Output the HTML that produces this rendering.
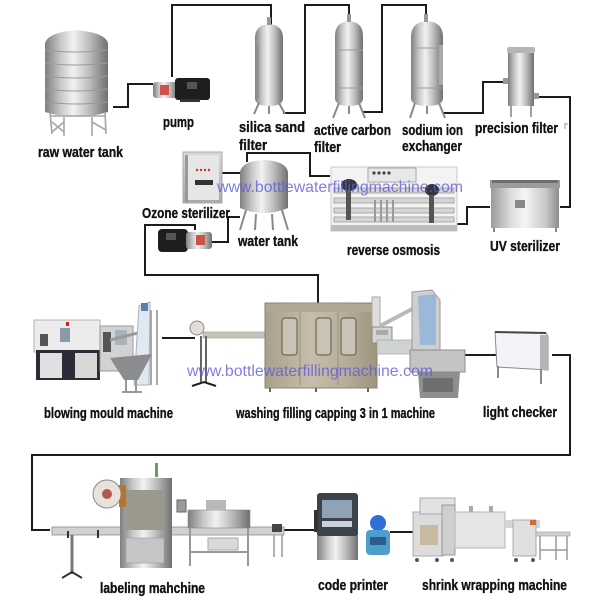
<!DOCTYPE html>
<html><head><meta charset="utf-8"><style>
html,body{margin:0;padding:0;background:#fff;}
svg{display:block;}
.lb{font-family:"Liberation Sans Narrow","Liberation Sans",Arial,sans-serif;font-weight:bold;font-size:14.5px;fill:#111;stroke:#111;stroke-width:0.35px;}
.wm{font-family:"Liberation Sans",Arial,sans-serif;font-size:16px;fill:#5c5ad8;fill-opacity:0.78;}
.ln{fill:none;stroke:#1c1c1c;stroke-width:2;}
</style></head><body>
<svg width="600" height="600" viewBox="0 0 600 600" xmlns="http://www.w3.org/2000/svg">
<defs>
<linearGradient id="st" x1="0" x2="1" y1="0" y2="0">
<stop offset="0" stop-color="#7f7f7f"/><stop offset="0.25" stop-color="#c8c8c8"/><stop offset="0.45" stop-color="#f2f2f2"/><stop offset="0.7" stop-color="#bdbdbd"/><stop offset="1" stop-color="#707070"/>
</linearGradient>
<linearGradient id="st2" x1="0" x2="1" y1="0" y2="0">
<stop offset="0" stop-color="#9a9a9a"/><stop offset="0.3" stop-color="#dedede"/><stop offset="0.5" stop-color="#f5f5f5"/><stop offset="0.8" stop-color="#c9c9c9"/><stop offset="1" stop-color="#8c8c8c"/>
</linearGradient>
<linearGradient id="tan" x1="0" x2="1" y1="0" y2="0">
<stop offset="0" stop-color="#a89f8c"/><stop offset="0.4" stop-color="#c6bdab"/><stop offset="0.7" stop-color="#b7ae9b"/><stop offset="1" stop-color="#9e957f"/>
</linearGradient>
<linearGradient id="gv" x1="0" x2="0" y1="0" y2="1">
<stop offset="0" stop-color="#d9d9d9"/><stop offset="1" stop-color="#a9a9a9"/>
</linearGradient>
</defs>

<!-- connectors -->
<path class="ln" d="M113,107 H128 V84 H153"/>
<path class="ln" d="M172,77 V5 H271 V25"/>
<path class="ln" d="M283,113 H305 V5 H349 V22"/>
<path class="ln" d="M363,112 H382 V5 H426 V22"/>
<path class="ln" d="M443,113 H483 V82 H503"/>
<path class="ln" d="M535,97 H570 V207 H560"/>
<path class="ln" d="M490,207 H467 V224 H457"/>
<path class="ln" d="M330,176 H310 V153 H247 V162"/>
<path class="ln" d="M222,173 H240"/>
<path class="ln" d="M240,217 H228 V242 H212"/>
<path class="ln" d="M195,230 V225 H145 V275 H318 V303"/>
<path class="ln" d="M162,338 H195"/>
<path class="ln" d="M465,355 H497"/>
<path class="ln" d="M552,355 H570 V455 H32 V530 H50"/>
<path class="ln" d="M283,530 H316"/>
<path class="ln" d="M390,532 H413"/>

<!-- raw water tank -->
<g>
<path d="M45,44 Q46,33 76,30 Q107,33 108,44 V112 Q76,122 45,112 Z" fill="url(#st)"/>
<g stroke="#9a9a9a" stroke-width="1" fill="none">
<path d="M45,50 Q76,54 108,50"/><path d="M45,63 Q76,67 108,63"/><path d="M45,76 Q76,80 108,76"/><path d="M45,89 Q76,93 108,89"/><path d="M45,102 Q76,106 108,102"/>
</g>
<g stroke="#a5a5a5" stroke-width="1.6" fill="none">
<path d="M50,112 L52,134"/><path d="M64,117 L64,136"/><path d="M92,117 L92,136"/><path d="M105,112 L106,134"/>
<path d="M50,116 H106"/><path d="M52,122 L64,132 M64,122 L52,132 M92,122 L106,130"/>
</g>
</g>

<!-- pump 1 -->
<g>
<rect x="153" y="82" width="24" height="16" rx="3" fill="url(#st)"/>
<rect x="160" y="85" width="9" height="10" fill="#c9524a"/>
<rect x="175" y="78" width="35" height="22" rx="3" fill="#1e1e1e"/>
<rect x="187" y="82" width="10" height="7" fill="#555"/>
<rect x="180" y="99" width="20" height="3" fill="#333"/>
</g>

<!-- silica sand filter -->
<g>
<path d="M255,38 Q255,25 269,24 Q283,25 283,38 V98 Q283,106 269,106 Q255,106 255,98 Z" fill="url(#st)"/>
<rect x="267" y="17" width="4" height="8" fill="#999"/>
<g stroke="#8a8a8a" stroke-width="2"><path d="M259,103 L254,114 M279,103 L285,114 M269,106 V114"/></g>
<path d="M258,45 V98 M280,45 V98" stroke="#888" stroke-width="1"/>
</g>
<!-- active carbon filter -->
<g>
<path d="M335,36 Q335,22 349,21 Q363,22 363,36 V98 Q363,106 349,106 Q335,106 335,98 Z" fill="url(#st)"/>
<rect x="347" y="14" width="4" height="8" fill="#999"/>
<g stroke="#8a8a8a" stroke-width="2"><path d="M339,103 L333,118 M359,103 L365,118 M349,106 V114"/></g>
<path d="M335,50 H363 M335,88 H363" stroke="#999" stroke-width="1"/>
</g>
<!-- sodium ion exchanger -->
<g>
<path d="M411,37 Q411,22 427,21 Q443,22 443,37 V98 Q443,106 427,106 Q411,106 411,98 Z" fill="url(#st)"/>
<rect x="424" y="14" width="4" height="8" fill="#999"/>
<g stroke="#8a8a8a" stroke-width="2"><path d="M415,103 L410,118 M439,103 L445,118 M427,106 V114"/></g>
<path d="M411,48 H443 M411,88 H443" stroke="#999" stroke-width="1"/>
<rect x="439" y="45" width="4" height="40" fill="#aaa"/>
</g>
<!-- precision filter -->
<g>
<rect x="507" y="47" width="28" height="6" rx="2" fill="#b5b5b5"/>
<rect x="508" y="53" width="26" height="53" fill="url(#st)"/>
<rect x="503" y="78" width="5" height="6" fill="#999"/>
<rect x="534" y="93" width="5" height="6" fill="#999"/>
<g stroke="#8a8a8a" stroke-width="1.6"><path d="M511,106 V117 M531,106 V117"/></g>
</g>
<path d="M565,123 V129 M565,124 H568" stroke="#999" stroke-width="1"/>

<!-- UV sterilizer -->
<g>
<rect x="490" y="180" width="70" height="8" fill="#9c9c9c"/>
<rect x="491" y="188" width="68" height="40" fill="url(#st2)"/>
<rect x="492" y="180" width="66" height="3" fill="#6e6e6e"/>
<rect x="515" y="200" width="10" height="8" fill="#888"/>
<path d="M494,228 V232 M556,228 V232" stroke="#888" stroke-width="2"/>
</g>

<!-- reverse osmosis -->
<g>
<rect x="331" y="167" width="126" height="64" fill="#f3f3f3" stroke="#c8c8c8"/>
<rect x="368" y="168" width="48" height="14" fill="#e8e8e8" stroke="#aaa"/>
<g fill="#444"><circle cx="374" cy="173" r="1.6"/><circle cx="379" cy="173" r="1.6"/><circle cx="384" cy="173" r="1.6"/><circle cx="389" cy="173" r="1.6"/></g>
<g fill="#d6d6d6" stroke="#9a9a9a" stroke-width="0.8">
<rect x="334" y="188" width="120" height="5"/><rect x="334" y="198" width="120" height="5"/><rect x="334" y="208" width="120" height="5"/><rect x="334" y="217" width="120" height="5"/>
</g>
<g stroke="#999" stroke-width="2"><path d="M375,200 V222 M381,200 V222 M387,200 V222 M393,200 V222"/></g>
<rect x="331" y="225" width="126" height="6" fill="#bdbdbd"/>
<ellipse cx="349" cy="185" rx="8" ry="6" fill="#33363c"/>
<ellipse cx="432" cy="190" rx="7" ry="6" fill="#33363c"/>
<rect x="346" y="190" width="5" height="30" fill="#555"/>
<rect x="429" y="195" width="5" height="28" fill="#555"/>
</g>

<!-- ozone sterilizer -->
<g>
<rect x="183" y="152" width="39" height="51" fill="url(#gv)" stroke="#aaa"/>
<rect x="186" y="155" width="33" height="45" fill="#e6e6e6"/>
<g fill="#c33"><circle cx="197" cy="170" r="1.2"/><circle cx="201" cy="170" r="1.2"/><circle cx="205" cy="170" r="1.2"/><circle cx="209" cy="170" r="1.2"/></g>
<rect x="195" y="180" width="18" height="5" fill="#333"/>
<rect x="185" y="155" width="3" height="47" fill="#999"/>
</g>

<!-- water tank -->
<g>
<path d="M240,172 Q242,161 264,160 Q286,161 288,172 V208 Q264,218 240,208 Z" fill="url(#st)"/>
<g stroke="#8a8a8a" stroke-width="2"><path d="M246,210 L240,230 M282,210 L288,230 M256,214 L255,230 M272,214 L273,230"/></g>
</g>

<!-- pump 2 -->
<g>
<rect x="158" y="229" width="30" height="23" rx="4" fill="#1e1e1e"/>
<rect x="166" y="233" width="10" height="7" fill="#555"/>
<rect x="186" y="232" width="26" height="17" rx="3" fill="url(#st)"/>
<rect x="196" y="235" width="9" height="10" fill="#c9524a"/>
</g>

<!-- blowing mould machine -->
<g>
<rect x="34" y="320" width="66" height="32" fill="#ececec" stroke="#b5b5b5"/>
<rect x="40" y="334" width="8" height="12" fill="#555"/>
<rect x="60" y="328" width="10" height="14" fill="#8a9aa8"/>
<rect x="36" y="350" width="64" height="30" fill="#2b2c38"/>
<rect x="40" y="353" width="22" height="25" fill="#e0e0e0"/>
<rect x="75" y="353" width="22" height="25" fill="#d8d8d8"/>
<rect x="100" y="326" width="33" height="45" fill="#d2d2d2" stroke="#999"/>
<rect x="103" y="332" width="8" height="20" fill="#555"/>
<rect x="115" y="330" width="12" height="15" fill="#a9b3bb"/>
<path d="M110,340 L150,330" stroke="#9a9a9a" stroke-width="3"/>
<polygon points="139,306 150,302 149,385 134,385" fill="#dfe9f1" stroke="#9fb2c3"/>
<rect x="141" y="303" width="7" height="8" fill="#5d7fa6"/>
<path d="M151,310 V385 M157,310 V385" stroke="#a8a8a8" stroke-width="2"/>
<polygon points="110,358 152,354 138,380 124,380" fill="#8c8c8c"/>
<path d="M126,380 V393 M136,380 V393 M122,392 H142" stroke="#999" stroke-width="2"/>
<rect x="66" y="322" width="3" height="4" fill="#c22"/>
</g>

<!-- bottle conveyor -->
<g>
<ellipse cx="197" cy="328" rx="7" ry="7" fill="#e3dfd6" stroke="#8a8a8a"/>
<rect x="203" y="332" width="62" height="6" fill="#c7c2b6" stroke="#999" stroke-width="0.6"/>
<path d="M201,336 V383 M206,336 V383" stroke="#666" stroke-width="2"/>
<path d="M192,386 L204,382 L216,386" stroke="#222" stroke-width="2" fill="none"/>
</g>

<!-- washing filling capping -->
<g>
<rect x="265" y="303" width="112" height="85" fill="url(#tan)" stroke="#8d8470"/>
<rect x="266" y="304" width="110" height="8" fill="#b0a795"/>
<g fill="#c9c3b5" stroke="#6f6754" stroke-width="1.2">
<rect x="282" y="318" width="15" height="37" rx="3"/><rect x="316" y="318" width="15" height="37" rx="3"/><rect x="341" y="318" width="15" height="37" rx="3"/>
</g>
<path d="M300,312 V385 M338,312 V385" stroke="#988f7b" stroke-width="1"/>
<path d="M270,388 V392 M316,388 V392 M368,388 V392" stroke="#666" stroke-width="2"/>
<rect x="372" y="297" width="8" height="30" fill="#ddd" stroke="#aaa"/>
<rect x="372" y="327" width="20" height="16" fill="#d4d4d4" stroke="#888"/>
<rect x="376" y="330" width="12" height="5" fill="#a9a9a9"/>
<rect x="377" y="340" width="35" height="14" fill="#cfd3cf" stroke="#999" stroke-width="0.6"/>
<path d="M380,326 L414,308" stroke="#b9b9b9" stroke-width="4"/>
<polygon points="412,292 432,290 440,300 440,360 412,360" fill="#cfcfcf" stroke="#999"/>
<polygon points="418,296 436,294 436,345 420,345" fill="#9bb8d8"/>
<rect x="410" y="350" width="55" height="22" fill="#c4c4c4" stroke="#8c8c8c"/>
<polygon points="418,372 460,372 458,398 420,398" fill="#8e8e8e"/>
<rect x="423" y="378" width="30" height="14" fill="#6f6f6f"/>
</g>

<!-- light checker -->
<g>
<polygon points="495,332 546,333 548,336 548,370 497,367" fill="#f3f4f8" stroke="#8a8a8a"/>
<path d="M495,332 L546,333" stroke="#444" stroke-width="2"/>
<rect x="540" y="335" width="8" height="35" fill="#b5b5b5"/>
<path d="M498,366 V378 M541,369 V384" stroke="#888" stroke-width="2"/>
</g>

<!-- labeling machine -->
<g>
<rect x="52" y="527" width="232" height="8" fill="#d1d1d1" stroke="#8c8c8c" stroke-width="0.8"/>
<path d="M68,531 V538 M98,530 V538" stroke="#333" stroke-width="2"/>
<path d="M72,535 V574" stroke="#777" stroke-width="3"/>
<path d="M62,578 L72,572 L82,578" stroke="#333" stroke-width="2" fill="none"/>
<rect x="120" y="478" width="52" height="90" fill="url(#st)"/>
<rect x="126" y="490" width="38" height="40" fill="#9b998c"/>
<rect x="126" y="538" width="38" height="25" fill="#c5c5c5" stroke="#999" stroke-width="0.6"/>
<rect x="119" y="485" width="7" height="22" fill="#b9732e"/>
<circle cx="107" cy="494" r="14" fill="#e8e2dd" stroke="#8a8a8a"/>
<circle cx="107" cy="494" r="5" fill="#b35a4a"/>
<rect x="155" y="463" width="3" height="14" fill="#6a9a6a"/>
<rect x="177" y="500" width="9" height="12" fill="#9a9a9a" stroke="#666"/>
<rect x="188" y="510" width="62" height="18" fill="url(#st)" stroke="#888" stroke-width="0.6"/>
<rect x="206" y="500" width="20" height="10" fill="#b8b8b8"/>
<path d="M190,528 V566 M248,528 V566 M190,552 H248" stroke="#999" stroke-width="2"/>
<rect x="208" y="538" width="30" height="12" fill="#d9d9d9" stroke="#aaa"/>
<rect x="272" y="524" width="10" height="8" fill="#444"/>
<path d="M274,535 V557 M282,535 V557" stroke="#999" stroke-width="1.5"/>
</g>

<!-- code printer -->
<g>
<rect x="317" y="493" width="41" height="44" rx="3" fill="#3d424b"/>
<rect x="322" y="500" width="30" height="18" fill="#8fa3b8"/>
<rect x="322" y="521" width="30" height="6" fill="#c8d2dc"/>
<rect x="317" y="536" width="41" height="24" fill="url(#st)"/>
<rect x="314" y="510" width="4" height="22" fill="#333"/>
<circle cx="378" cy="523" r="8" fill="#2f6fd6"/>
<rect x="366" y="530" width="24" height="25" rx="4" fill="#4d9ecb"/>
<rect x="370" y="537" width="16" height="8" fill="#2c5c8c"/>
</g>

<!-- shrink wrapping machine -->
<g>
<rect x="413" y="512" width="30" height="44" fill="#dcdcdc" stroke="#aaa"/>
<rect x="420" y="498" width="35" height="16" fill="#e2e2e2" stroke="#aaa"/>
<rect x="442" y="505" width="13" height="50" fill="#cfcfcf" stroke="#999"/>
<rect x="420" y="525" width="18" height="20" fill="#c8b9a0"/>
<rect x="455" y="512" width="50" height="36" fill="#e5e5e5" stroke="#b5b5b5"/>
<rect x="469" y="506" width="4" height="6" fill="#aaa"/>
<rect x="489" y="506" width="4" height="6" fill="#aaa"/>
<rect x="505" y="520" width="35" height="8" fill="#d5d5d5"/>
<rect x="513" y="520" width="23" height="36" fill="#e0e0e0" stroke="#aaa"/>
<rect x="530" y="520" width="6" height="5" fill="#d07030"/>
<rect x="536" y="532" width="34" height="4" fill="#cfcfcf" stroke="#999" stroke-width="0.6"/>
<path d="M540,536 V560 M556,536 V560 M567,536 V560 M540,550 H567" stroke="#9a9a9a" stroke-width="1.5"/>
<g fill="#555"><circle cx="417" cy="560" r="2"/><circle cx="437" cy="560" r="2"/><circle cx="452" cy="560" r="2"/><circle cx="516" cy="560" r="2"/><circle cx="533" cy="560" r="2"/></g>
</g>

<!-- watermarks -->
<text class="wm" x="217" y="192" textLength="246" lengthAdjust="spacingAndGlyphs">www.bottlewaterfillingmachine.com</text>
<text class="wm" x="187" y="376" textLength="246" lengthAdjust="spacingAndGlyphs">www.bottlewaterfillingmachine.com</text>

<!-- labels -->
<text class="lb" x="38" y="157" textLength="85" lengthAdjust="spacingAndGlyphs">raw water tank</text>
<text class="lb" x="163" y="127" textLength="31" lengthAdjust="spacingAndGlyphs">pump</text>
<text class="lb" x="239" y="132" textLength="66" lengthAdjust="spacingAndGlyphs">silica sand</text>
<text class="lb" x="239" y="150" textLength="28" lengthAdjust="spacingAndGlyphs">filter</text>
<text class="lb" x="314" y="135" textLength="77" lengthAdjust="spacingAndGlyphs">active carbon</text>
<text class="lb" x="314" y="152" textLength="27" lengthAdjust="spacingAndGlyphs">filter</text>
<text class="lb" x="402" y="135" textLength="61" lengthAdjust="spacingAndGlyphs">sodium ion</text>
<text class="lb" x="402" y="151" textLength="60" lengthAdjust="spacingAndGlyphs">exchanger</text>
<text class="lb" x="475" y="133" textLength="83" lengthAdjust="spacingAndGlyphs">precision filter</text>
<text class="lb" x="142" y="218" textLength="88" lengthAdjust="spacingAndGlyphs">Ozone sterilizer</text>
<text class="lb" x="238" y="246" textLength="60" lengthAdjust="spacingAndGlyphs">water tank</text>
<text class="lb" x="347" y="255" textLength="93" lengthAdjust="spacingAndGlyphs">reverse osmosis</text>
<text class="lb" x="490" y="251" textLength="70" lengthAdjust="spacingAndGlyphs">UV sterilizer</text>
<text class="lb" x="44" y="418" textLength="129" lengthAdjust="spacingAndGlyphs">blowing mould machine</text>
<text class="lb" x="236" y="418" textLength="199" lengthAdjust="spacingAndGlyphs">washing filling capping 3 in 1 machine</text>
<text class="lb" x="483" y="417" textLength="74" lengthAdjust="spacingAndGlyphs">light checker</text>
<text class="lb" x="100" y="593" textLength="105" lengthAdjust="spacingAndGlyphs">labeling mahchine</text>
<text class="lb" x="318" y="590" textLength="70" lengthAdjust="spacingAndGlyphs">code printer</text>
<text class="lb" x="422" y="590" textLength="145" lengthAdjust="spacingAndGlyphs">shrink wrapping machine</text>
</svg>
</body></html>
